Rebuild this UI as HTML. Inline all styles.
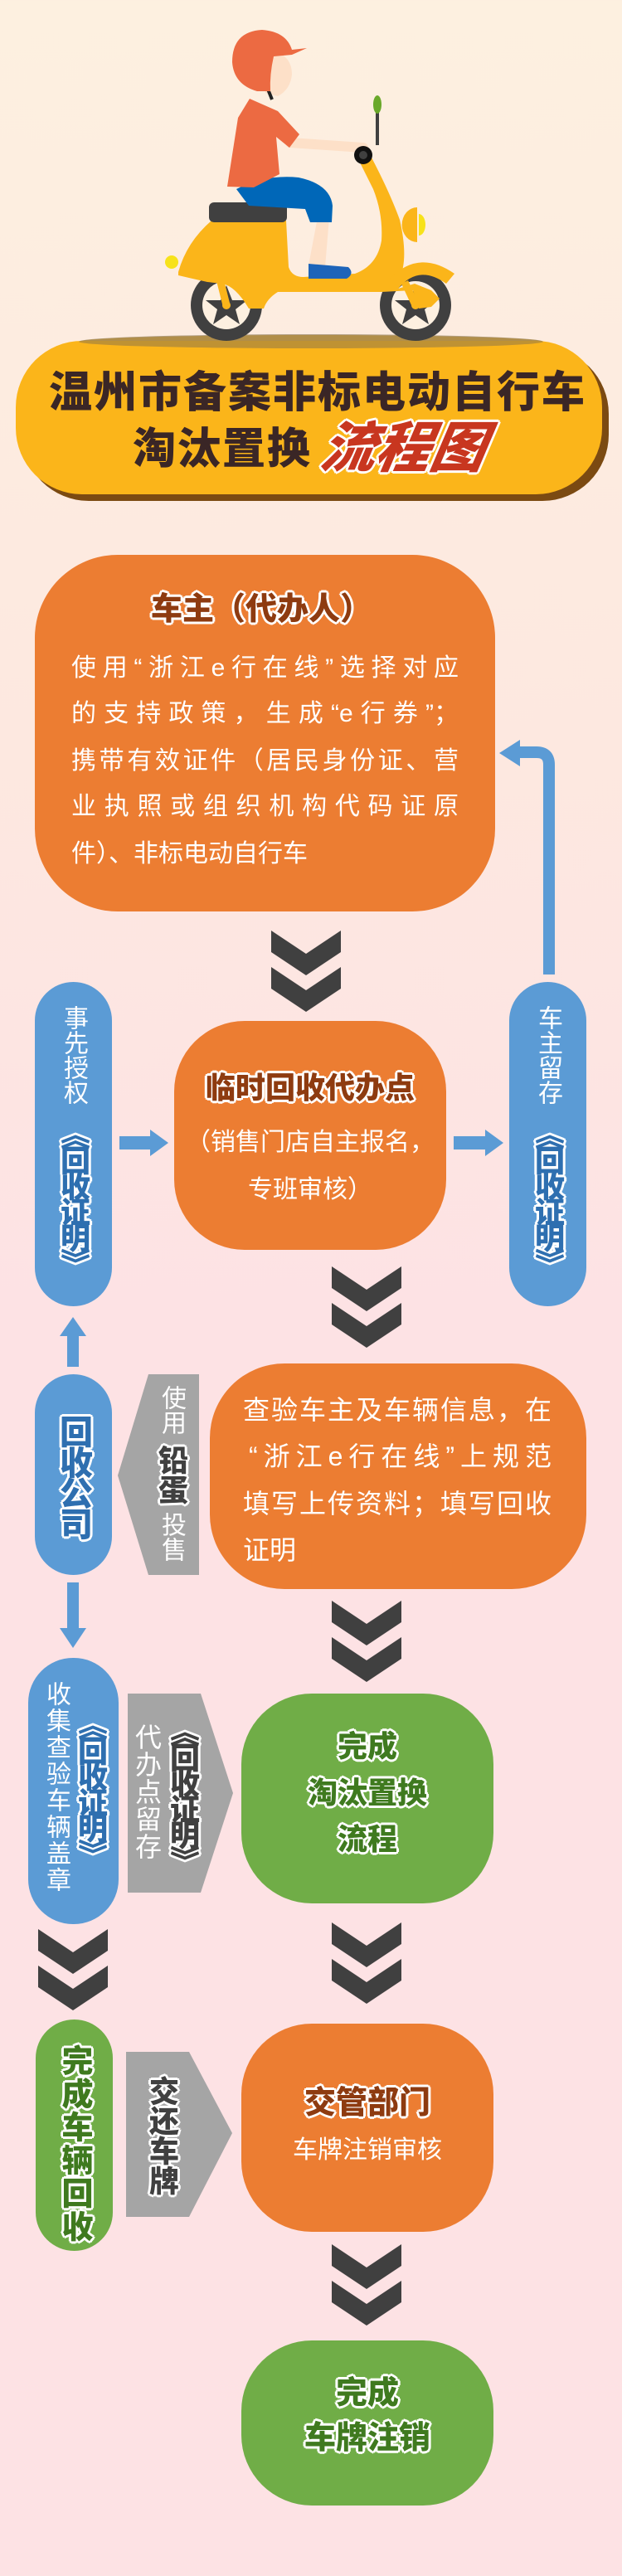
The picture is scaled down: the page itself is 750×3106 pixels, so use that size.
<!DOCTYPE html>
<html><head><meta charset="utf-8">
<style>
*{margin:0;padding:0;box-sizing:border-box}
body{width:750px;height:3106px;position:relative;overflow:hidden;
background:linear-gradient(180deg,#fdf0e0 0px,#fde8e0 900px,#fde2e4 1600px,#fde2e4 3106px);
font-family:"Liberation Sans","Noto Sans CJK SC",sans-serif}
.a{position:absolute}
.box{position:absolute;border-radius:90px}
.or{background:#ec7d32}.gr{background:#70ad47}.bl{background:#5b9bd5}
.ln{position:absolute;color:#fff;font-size:30px;line-height:40px;white-space:nowrap}
.j{text-align:justify;text-align-last:justify}
.c{text-align:center}
.ol{text-shadow:2px 0 0 #fff,-2px 0 0 #fff,0 2px 0 #fff,0 -2px 0 #fff,2px 2px 0 #fff,-2px -2px 0 #fff,2px -2px 0 #fff,-2px 2px 0 #fff,3px 0 0 #fff,-3px 0 0 #fff,0 3px 0 #fff,0 -3px 0 #fff}
.b{font-weight:900}
.v{position:absolute;writing-mode:vertical-rl;text-orientation:upright;white-space:nowrap;line-height:1}
.brn{color:#8e3b10}.dg{color:#3f7a1f}.db{color:#2e6fb0}.dk{color:#404040}
</style></head><body>

<svg class="a" style="left:0;top:0" width="750" height="3106">
<!-- ground shadow -->
<ellipse cx="375" cy="412" rx="280" ry="9" fill="#b3a086"/>
<!-- banner -->
<rect x="27" y="419" width="707" height="185" rx="80" fill="#7b4a12"/>
<rect x="19" y="411" width="707" height="185" rx="80" fill="#fbb51a"/>
<ellipse cx="375" cy="412" rx="280" ry="8" fill="#b08a3a" opacity="0.8"/>
<!-- scooter wheels -->
<circle cx="273" cy="368" r="43" fill="#404040"/>
<circle cx="273" cy="368" r="29" fill="#fdf0e0"/>
<polygon points="273,344 280,362 298,362 284,373 289,391 273,380 257,391 262,373 248,362 266,362" fill="#404040"/>
<circle cx="501" cy="368" r="43" fill="#404040"/>
<circle cx="501" cy="368" r="29" fill="#fdf0e0"/>
<polygon points="501,344 508,362 526,362 512,373 517,391 501,380 485,391 490,373 476,362 494,362" fill="#404040"/>
<!-- body -->
<path d="M215,328 Q225,292 255,266 L345,266 L348,322 Q352,334 366,334 L428,330 Q455,320 460,290 Q462,258 450,228 L434,196 L448,190 Q470,232 482,265 Q490,300 486,322 L480,348 L500,342 L520,350 L530,360 L520,370 L505,372 L498,350 L460,352 L335,352 Q322,360 318,372 L300,372 Q284,345 268,342 L250,340 Q232,336 215,332 Z" fill="#fbb51a"/>
<path d="M470,336 Q505,300 548,330 L538,342 Q505,318 480,348 Z" fill="#fbb51a"/>
<line x1="265" y1="336" x2="273" y2="368" stroke="#fbb51a" stroke-width="9"/>
<line x1="488" y1="340" x2="501" y2="368" stroke="#fbb51a" stroke-width="9"/>
<circle cx="273" cy="368" r="5" fill="#fbb51a"/><circle cx="501" cy="368" r="5" fill="#fbb51a"/>
<path d="M503,250 A14,16 0 0 0 503,292 Z" fill="#fbb51a"/>
<path d="M505,258 A8,13 0 0 1 505,284 Z" fill="#f7e21a"/>
<ellipse cx="207" cy="316" rx="8" ry="8" fill="#f7e21a"/>
<!-- seat -->
<rect x="252" y="244" width="94" height="24" rx="6" fill="#404040"/>
<!-- mirror -->
<line x1="455" y1="125" x2="455" y2="175" stroke="#404040" stroke-width="4"/>
<ellipse cx="455" cy="126" rx="5" ry="11" fill="#6aa82a"/>
<!-- rider -->
<polygon points="383,262 372,320 392,322 397,262" fill="#fde0c8"/>
<path d="M372,318 L420,322 Q428,330 418,336 L372,336 Z" fill="#1d64b9"/>
<path d="M285,228 Q320,210 360,214 Q398,222 401,248 L400,268 L374,268 L368,252 L300,248 Z" fill="#0067b8"/>
<line x1="350" y1="172" x2="438" y2="178" stroke="#fde0c8" stroke-width="12" stroke-linecap="round"/>
<polygon points="301,119 335,134 361,162 349,178 333,165 337,210 306,226 274,225 287,142" fill="#ec6a42"/>
<path d="M318,60 Q352,62 352,90 Q350,108 335,116 L320,112 Z" fill="#fde0c8"/>
<line x1="320" y1="100" x2="328" y2="120" stroke="#222" stroke-width="4"/>
<path d="M280,75 Q280,38 316,36 Q345,38 352,60 L370,58 L352,66 L330,68 Q325,90 326,110 L310,110 Q282,102 280,75 Z" fill="#ec6a42"/>
<circle cx="438" cy="187" r="11" fill="#111"/><circle cx="438" cy="187" r="5" fill="#404040"/>

<!-- right connector -->
<path d="M662,1175 L662,922 Q662,907 647,907 L625,907" fill="none" stroke="#5b9bd5" stroke-width="14"/>
<polygon points="602,908 627,892 627,924" fill="#5b9bd5"/>
<!-- horizontal arrows -->
<rect x="144" y="1370" width="40" height="16" fill="#5b9bd5"/><polygon points="203,1378 181,1362 181,1394" fill="#5b9bd5"/>
<rect x="547" y="1370" width="40" height="16" fill="#5b9bd5"/><polygon points="607,1378 585,1362 585,1394" fill="#5b9bd5"/>
<!-- up arrow -->
<rect x="81" y="1608" width="14" height="40" fill="#5b9bd5"/><polygon points="88,1588 72,1611 104,1611" fill="#5b9bd5"/>
<!-- down arrow -->
<rect x="81" y="1908" width="14" height="58" fill="#5b9bd5"/><polygon points="88,1987 72,1963 104,1963" fill="#5b9bd5"/>
<!-- gray pentagons -->
<polygon points="179,1657 240,1657 240,1899 179,1899 142,1779" fill="#a5a5a5"/>
<polygon points="154,2042 242,2042 281,2162 242,2282 154,2282" fill="#a5a5a5"/>
<polygon points="152,2474 228,2474 280,2572 228,2673 152,2673" fill="#a5a5a5"/>

<!-- chevrons -->
<defs><g id="ch"><polygon points="0,0 42,28 84,0 84,26 42,54 0,26" fill="#404040"/><polygon points="0,44 42,72 84,44 84,70 42,98 0,70" fill="#404040"/></g></defs>
<use href="#ch" x="327" y="1122"/>
<use href="#ch" x="400" y="1527"/>
<use href="#ch" x="400" y="1930"/>
<use href="#ch" x="400" y="2318"/>
<use href="#ch" x="46" y="2326"/>
<use href="#ch" x="400" y="2706"/>
</svg>

<!-- title -->
<div class="a b" style="left:0;width:766px;top:444px;text-align:center;font-size:52px;letter-spacing:2px;line-height:60px;color:#3a2626">温州市备案非标电动自行车</div>
<div class="a b" style="left:160px;top:512px;font-size:52px;letter-spacing:2px;line-height:60px;color:#3a2626">淘汰置换</div>
<div class="a b ol" style="left:388px;top:504px;font-size:66px;line-height:72px;color:#c8361f;font-style:italic;transform:skewX(-10deg)">流程图</div>

<!-- box1 -->
<div class="box or" style="left:42px;top:669px;width:555px;height:430px;border-radius:100px"></div>
<div class="ln b ol brn" style="left:182px;top:713px;font-size:38px;line-height:44px">车主（代办人）</div>
<div class="ln j" style="left:86px;top:786px;width:467px">使用“浙江e行在线”选择对应</div>
<div class="ln j" style="left:86px;top:841px;width:467px">的支持政策，生成“e行券”；</div>
<div class="ln j" style="left:86px;top:898px;width:467px">携带有效证件（居民身份证、营</div>
<div class="ln j" style="left:86px;top:953px;width:467px">业执照或组织机构代码证原</div>
<div class="ln" style="left:86px;top:1010px">件）、非标电动自行车</div>

<!-- middle box -->
<div class="box or" style="left:210px;top:1231px;width:328px;height:276px;border-radius:85px"></div>
<div class="ln b ol brn c" style="left:210px;width:328px;top:1292px;font-size:36px">临时回收代办点</div>
<div class="ln c" style="left:210px;width:328px;top:1358px">（销售门店自主报名，</div>
<div class="ln c" style="left:210px;width:328px;top:1415px">专班审核）</div>

<!-- side pills -->
<div class="box bl" style="left:42px;top:1184px;width:93px;height:391px;border-radius:47px"></div>
<div class="v" style="left:73px;top:1212px;font-size:30px;color:#fff">事先授权</div>
<div class="v b ol db" style="left:70px;top:1350px;font-size:36px;letter-spacing:-5px">《回收证明》</div>
<div class="box bl" style="left:614px;top:1184px;width:93px;height:391px;border-radius:47px"></div>
<div class="v" style="left:645px;top:1212px;font-size:30px;color:#fff">车主留存</div>
<div class="v b ol db" style="left:642px;top:1350px;font-size:36px;letter-spacing:-5px">《回收证明》</div>

<!-- 回收公司 -->
<div class="box bl" style="left:42px;top:1657px;width:93px;height:242px;border-radius:47px"></div>
<div class="v b ol db" style="left:68px;top:1706px;font-size:40px;letter-spacing:-3px">回收公司</div>
<div class="v" style="left:191px;top:1670px;font-size:30px;color:#fff">使用</div>
<div class="v b ol dk" style="left:188px;top:1742px;font-size:36px">铅蛋</div>
<div class="v" style="left:191px;top:1823px;font-size:30px;color:#fff">投售</div>

<!-- box3 -->
<div class="box or" style="left:253px;top:1644px;width:454px;height:272px;border-radius:90px"></div>
<div class="ln j" style="left:293px;top:1680px;width:372px;font-size:32px">查验车主及车辆信息，在</div>
<div class="ln j" style="left:300px;top:1736px;width:365px;font-size:32px">“浙江e行在线”上规范</div>
<div class="ln j" style="left:293px;top:1793px;width:372px;font-size:32px">填写上传资料；填写回收</div>
<div class="ln" style="left:293px;top:1849px;font-size:32px">证明</div>

<!-- 收集 pill -->
<div class="box bl" style="left:34px;top:1999px;width:109px;height:321px;border-radius:54px"></div>
<div class="v" style="left:52px;top:2027px;font-size:30px;letter-spacing:2px;color:#fff">收集查验车辆盖章</div>
<div class="v b ol db" style="left:91px;top:2062px;font-size:36px;letter-spacing:-5px">《回收证明》</div>
<div class="v" style="left:161px;top:2078px;font-size:32px;letter-spacing:1px;color:#fff">代办点留存</div>
<div class="v b ol dk" style="left:202px;top:2070px;font-size:36px;letter-spacing:-5px">《回收证明》</div>

<!-- green box -->
<div class="box gr" style="left:291px;top:2042px;width:304px;height:253px;border-radius:85px"></div>
<div class="ln b ol dg c" style="left:291px;width:304px;top:2084px;font-size:36px;line-height:44px">完成</div>
<div class="ln b ol dg c" style="left:291px;width:304px;top:2140px;font-size:36px;line-height:44px">淘汰置换</div>
<div class="ln b ol dg c" style="left:291px;width:304px;top:2196px;font-size:36px;line-height:44px">流程</div>

<!-- 完成车辆回收 -->
<div class="box gr" style="left:43px;top:2435px;width:93px;height:279px;border-radius:47px"></div>
<div class="v b ol dg" style="left:70px;top:2465px;font-size:38px;letter-spacing:2px">完成车辆回收</div>
<div class="v b ol dk" style="left:177px;top:2503px;font-size:36px">交还车牌</div>

<!-- 交管部门 -->
<div class="box or" style="left:291px;top:2440px;width:304px;height:251px;border-radius:85px"></div>
<div class="ln b ol brn c" style="left:291px;width:304px;top:2514px;font-size:38px;line-height:44px">交管部门</div>
<div class="ln c" style="left:291px;width:304px;top:2573px">车牌注销审核</div>

<!-- final -->
<div class="box gr" style="left:291px;top:2822px;width:304px;height:199px;border-radius:85px"></div>
<div class="ln b ol dg c" style="left:291px;width:304px;top:2864px;font-size:38px;line-height:44px">完成</div>
<div class="ln b ol dg c" style="left:291px;width:304px;top:2918px;font-size:38px;line-height:44px">车牌注销</div>
</body></html>
